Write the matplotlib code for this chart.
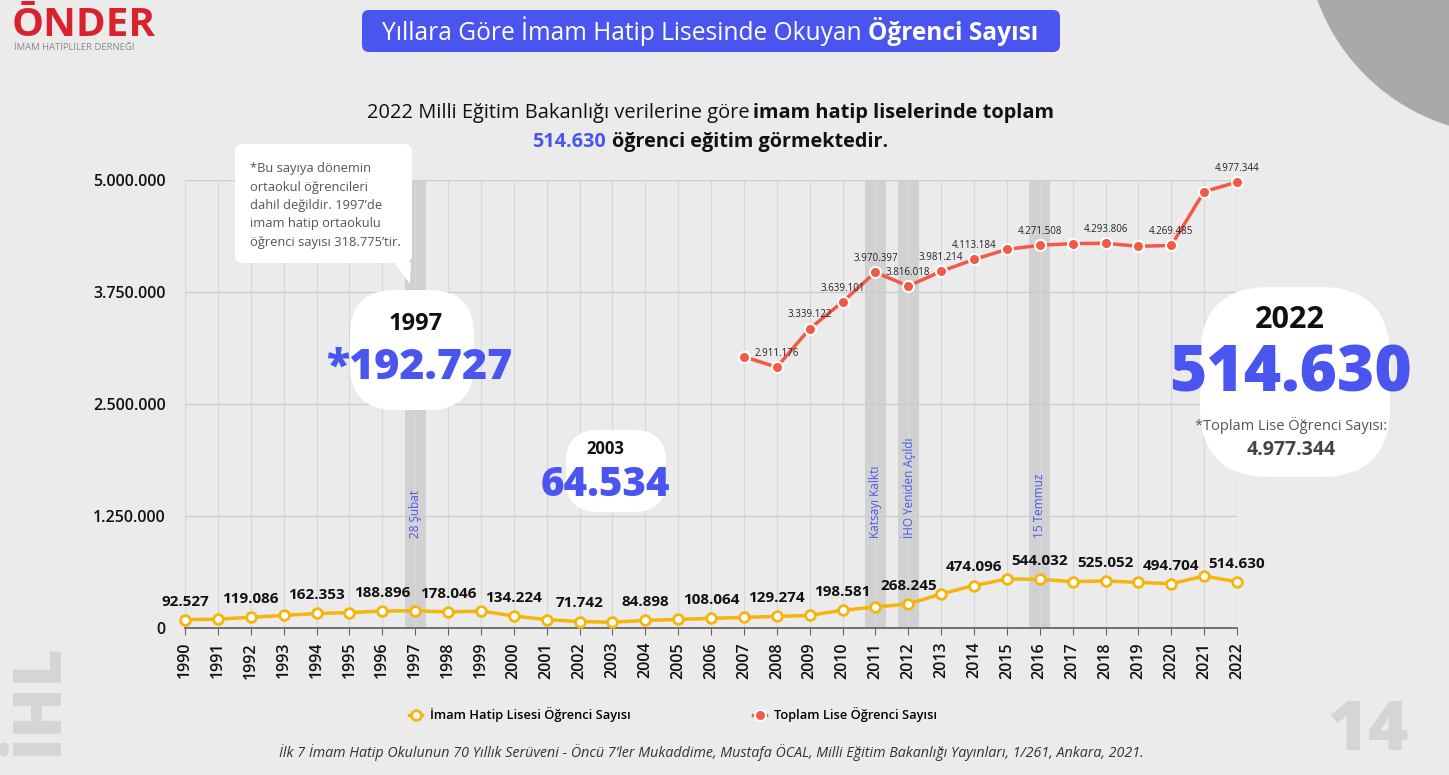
import matplotlib
matplotlib.use("Agg")
import matplotlib.pyplot as plt
from matplotlib.patches import FancyBboxPatch, Circle, Polygon

plt.rcParams['font.family'] = ['Open Sans', 'DejaVu Sans']

# --- data
years = list(range(1990, 2023))
ihl_students = [92527, 100000, 119086, 140000, 162353, 172000, 188896, 192727, 178046, 190000,
                134224, 93000, 71742, 64534, 84898, 96000, 108064, 118000, 129274, 140000,
                198581, 234000, 268245, 380000, 474096, 547000, 544032, 517000, 525052, 509000,
                494704, 580000, 514630]
total_years = list(range(2007, 2023))
total_students = [3028000, 2911176, 3339122, 3639101, 3970397, 3816018, 3981214, 4113184,
                  4226000, 4271508, 4290000, 4293806, 4260000, 4269485, 4870000, 4977344]
ihl_label_years = list(range(1990, 2023, 2))
total_label_years = [2008, 2009, 2010, 2011, 2012, 2013, 2014, 2016, 2018, 2020, 2022]
event_years = [1997, 2011, 2012, 2016]
event_labels = ["28 Şubat", "Katsayı Kalktı", "İHO Yeniden Açıldı", "15 Temmuz"]
y_ticks = [0, 1250000, 2500000, 3750000, 5000000]

YEL = "#f5b50c"
RED = "#f25a45"
BLUE = "#4a55f0"
BG = "#ebebeb"

W, H = 1449, 775


def fmt(v):
    return f"{v:,}".replace(",", ".")


fig = plt.figure(figsize=(W / 100, H / 100), dpi=100)
fig.patch.set_facecolor(BG)
renderer = fig.canvas.get_renderer()

# background layer in pixel coordinates
bg = fig.add_axes([0, 0, 1, 1], zorder=0)
bg.set_xlim(0, W)
bg.set_ylim(H, 0)
bg.axis("off")
bg.add_patch(Circle((1510, -70), 205, color="#a9a9a9", lw=0))
bg.text(40, 700, "İHL", rotation=90, fontsize=48, fontweight="heavy", color="#d5d5d5",
        ha="center", va="center")
bg.text(1368, 732, "14", fontsize=50, fontweight="heavy", color="#d5d5d5",
        ha="center", va="center")

# --- main chart
ax = fig.add_axes([185 / W, 1 - 628 / H, (1237 - 185) / W, (628 - 180) / H], zorder=2)
ax.patch.set_alpha(0)
ax.set_xlim(1990, 2022)
ax.set_ylim(0, 5000000)

for yr in event_years:
    ax.axvspan(yr - 0.32, yr + 0.32, color="#cdcdcd", alpha=0.85, lw=0, zorder=0.5)
for yr, lab in zip(event_years, event_labels):
    ax.text(yr, 1000000, lab, rotation=90, ha="center", va="bottom", fontsize=8.5,
            color=BLUE, zorder=1)

ax.set_xticks(years)
ax.set_yticks(y_ticks)
ax.set_yticklabels([fmt(v) for v in y_ticks])
ax.grid(axis="x", color="#d8d8d8", lw=0.8, zorder=0)
ax.grid(axis="y", color="#cbcbcb", lw=0.9, zorder=0)
ax.set_axisbelow(True)
for s in ["top", "right", "left"]:
    ax.spines[s].set_visible(False)
ax.spines["bottom"].set_color("#666666")
ax.spines["bottom"].set_linewidth(1.3)
ax.tick_params(axis="x", length=5, color="#666666", labelrotation=90, labelsize=11.5, pad=5)
ax.tick_params(axis="y", length=0, labelsize=11.5, pad=14)
for t in ax.get_xticklabels() + ax.get_yticklabels():
    t.set_fontweight("semibold")
    t.set_color("#111111")

ax.plot(years, ihl_students, color=YEL, lw=2.5, marker="o", ms=7, mfc="white", mec=YEL,
        mew=2, zorder=4, clip_on=False, label="İmam Hatip Lisesi Öğrenci Sayısı")
ax.plot(total_years, total_students, color=RED, lw=2.5, marker="o", ms=8, mfc=RED, mec="white",
        mew=1.5, zorder=4, clip_on=False, label="Toplam Lise Öğrenci Sayısı")

for yr in ihl_label_years:
    v = ihl_students[years.index(yr)]
    ax.annotate(fmt(v), (yr, v), xytext=(0, 8), textcoords="offset points", ha="center",
                va="bottom", fontsize=11, fontweight="bold", color="#111111", zorder=5)
for yr in total_label_years:
    v = total_students[total_years.index(yr)]
    ax.annotate(fmt(v), (yr, v), xytext=(0, 6), textcoords="offset points", ha="center",
                va="bottom", fontsize=7, color="#222222", zorder=5)

leg = ax.legend(loc="center", bbox_to_anchor=(673 / W, 1 - 715 / H), bbox_transform=fig.transFigure,
                ncol=2, frameon=False, fontsize=9.3, handlelength=1.0, columnspacing=9.5,
                handletextpad=0.6)
for t in leg.get_texts():
    t.set_fontweight("semibold")

# --- overlay layer (pixel coordinates) for boxes and headline text
ov = fig.add_axes([0, 0, 1, 1], zorder=5)
ov.set_xlim(0, W)
ov.set_ylim(H, 0)
ov.axis("off")
ov.patch.set_alpha(0)


def rich(x, y, parts, size, width=None):
    # parts: list of (text, weight, color); segments joined with a space, centred on x
    texts = [ov.text(0, y, s, fontsize=size, fontweight=w, color=c, ha="left", va="center")
             for s, w, c in parts]
    probe = ov.text(0, 0, "a a", fontsize=size)
    probe2 = ov.text(0, 0, "aa", fontsize=size)
    gap = probe.get_window_extent(renderer).width - probe2.get_window_extent(renderer).width
    probe.remove()
    probe2.remove()
    widths = [t.get_window_extent(renderer).width for t in texts]
    total = sum(widths) + gap * (len(texts) - 1)
    if width is not None:
        k = width / total
        for t in texts:
            t.set_fontsize(size * k)
        widths = [w * k for w in widths]
        gap *= k
        total *= k
    x0 = x - total / 2
    for t, w in zip(texts, widths):
        t.set_x(x0)
        x0 += w + gap


# title
ov.add_patch(FancyBboxPatch((362, 10), 698, 42, boxstyle="round,pad=0,rounding_size=7",
                            fc=BLUE, ec="none"))
rich(711, 31, [("Yıllara Göre İmam Hatip Lisesinde Okuyan", "normal", "white"),
               ("Öğrenci Sayısı", "bold", "white")], 16, width=657)

# subtitle
rich(711, 113, [("2022 Milli Eğitim Bakanlığı verilerine göre", "normal", "#111111"),
                ("imam hatip liselerinde toplam", "bold", "#111111")], 13.5, width=688)
rich(711, 142, [("514.630", "bold", BLUE),
                ("öğrenci eğitim görmektedir.", "bold", "#111111")], 13.5, width=357)

# logo
ov.text(12, 26, "ŌNDER", fontsize=29, fontweight="bold", color="#d8232f", ha="left", va="center")
ov.text(14, 48, "İMAM HATİPLİLER DERNEĞİ", fontsize=6.8, color="#888888", ha="left", va="center")

# note box
ov.add_patch(FancyBboxPatch((235, 144), 177, 119, boxstyle="round,pad=0,rounding_size=8",
                            fc="white", ec="none"))
ov.add_patch(Polygon([(394, 262), (411, 262), (410, 284)], closed=True, fc="white", ec="none"))
note_lines = ["*Bu sayıya dönemin", "ortaokul öğrencileri", "dahil değildir. 1997’de",
              "imam hatip ortaokulu", "öğrenci sayısı 318.775’tir."]
ov.text(250, 162, "\n".join(note_lines), fontsize=9.3, color="#555555", ha="left", va="top",
        linespacing=1.55)

# callout blobs
ov.add_patch(FancyBboxPatch((350, 290), 124, 120, boxstyle="round,pad=0,rounding_size=45",
                            fc="white", ec="none"))
ov.text(416, 324, "1997", fontsize=17, fontweight="bold", color="#111111", ha="center", va="center")
ov.text(419, 368, "*192.727", fontsize=31, fontweight="heavy", color=BLUE, ha="center", va="center")

ov.add_patch(FancyBboxPatch((566, 430), 100, 82, boxstyle="round,pad=0,rounding_size=32",
                            fc="white", ec="none"))
ov.text(605, 449, "2003", fontsize=12, fontweight="bold", color="#111111", ha="center", va="center")
ov.text(605, 485, "64.534", fontsize=29, fontweight="heavy", color=BLUE, ha="center", va="center")

ov.add_patch(FancyBboxPatch((1200, 287), 190, 190, boxstyle="round,pad=0,rounding_size=70",
                            fc="white", ec="none"))
ov.text(1290, 320, "2022", fontsize=22, fontweight="bold", color="#111111", ha="center", va="center")
ov.text(1291, 374, "514.630", fontsize=46, fontweight="heavy", color=BLUE, ha="center", va="center")
ov.text(1291, 425, "*Toplam Lise Öğrenci Sayısı:", fontsize=10.5, color="#555555",
        ha="center", va="center")
ov.text(1291, 450, "4.977.344", fontsize=14, fontweight="bold", color="#444444",
        ha="center", va="center")

# source footer
ov.text(711, 753, "İlk 7 İmam Hatip Okulunun 70 Yıllık Serüveni - Öncü 7’ler Mukaddime, Mustafa ÖCAL, "
        "Milli Eğitim Bakanlığı Yayınları, 1/261, Ankara, 2021.", fontsize=10.3, style="italic",
        color="#333333", ha="center", va="center")

fig.savefig("out.png", dpi=100, facecolor=BG)
